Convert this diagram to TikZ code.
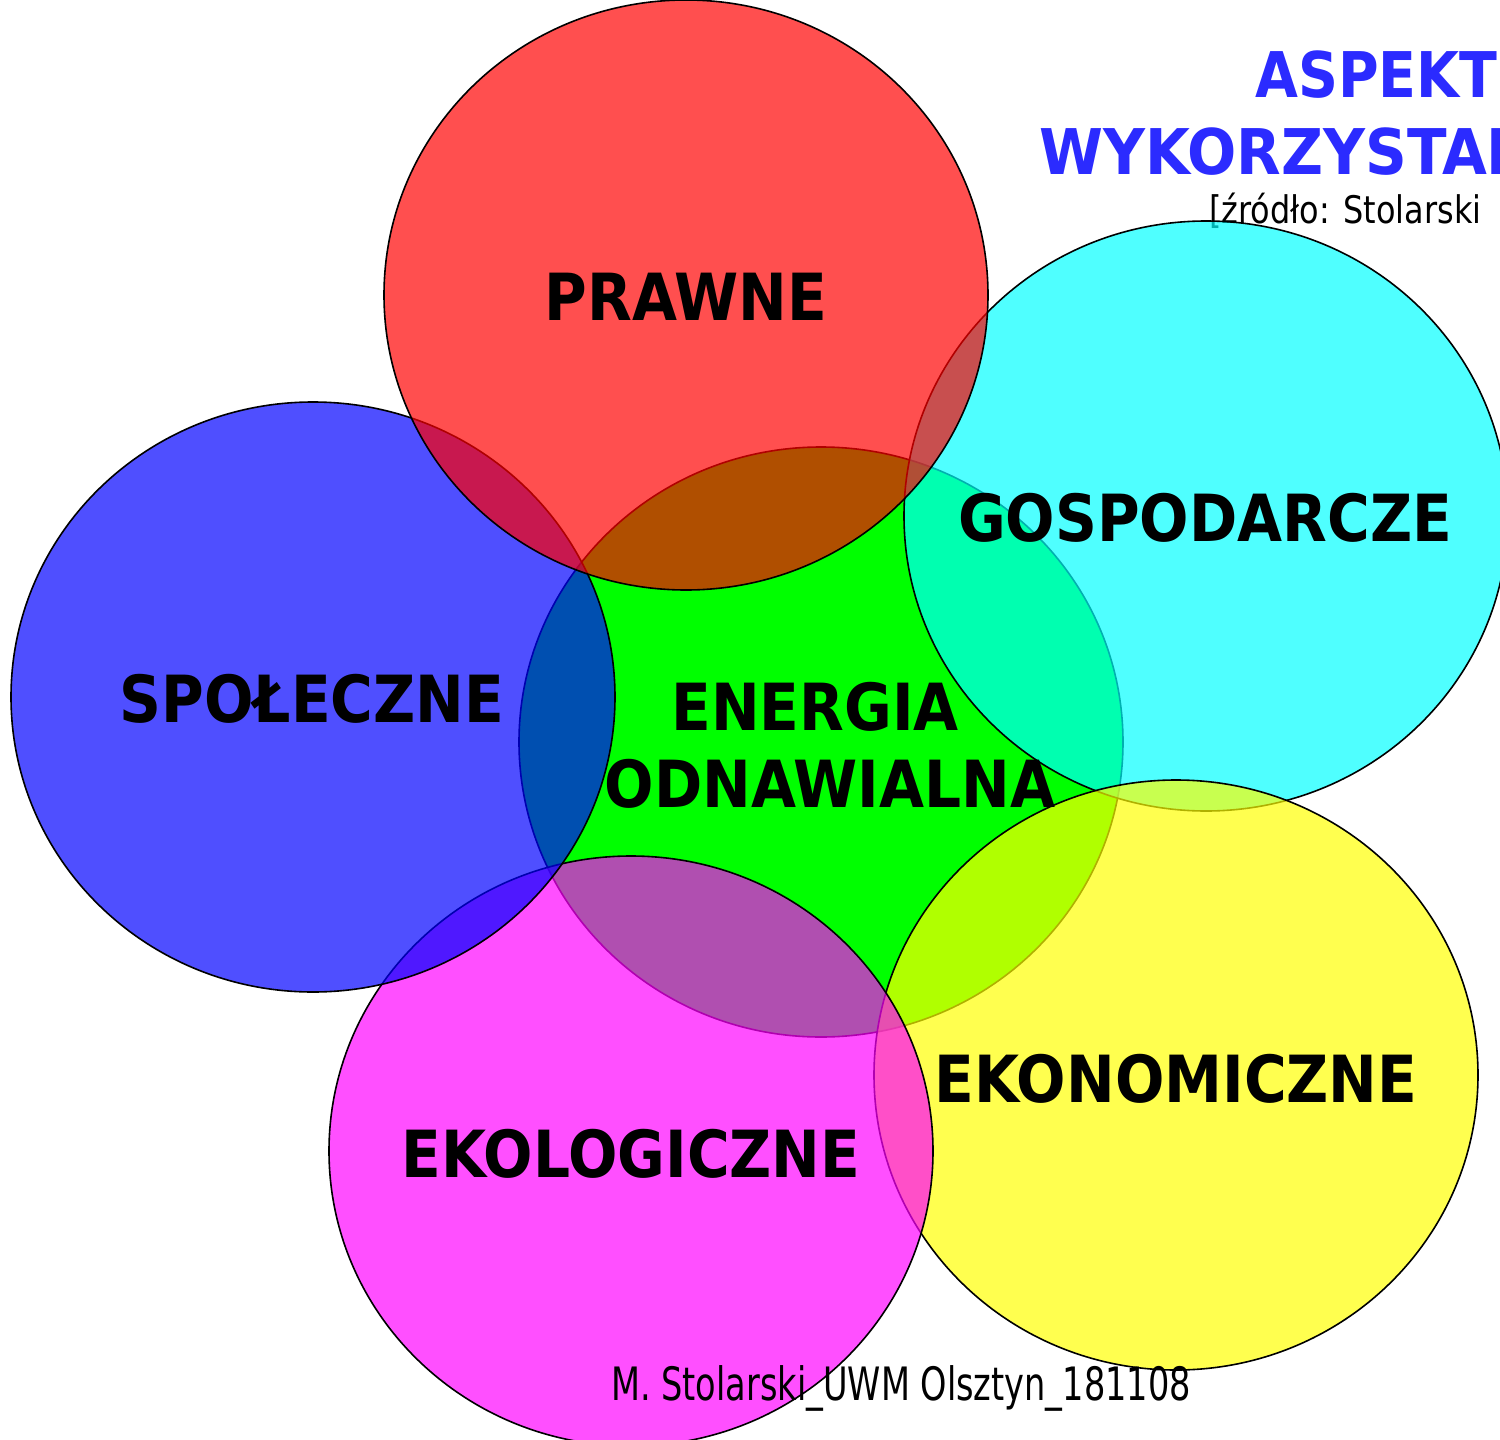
\documentclass[tikz,border=0pt]{standalone}
\usepackage{fontspec}
\setmainfont{DejaVu Sans}
\usepackage{graphicx}
\definecolor{cGreen}{RGB}{0,255,0}
\definecolor{cRed}{RGB}{255,0,0}
\definecolor{cCyan}{RGB}{0,255,255}
\definecolor{cYellow}{RGB}{255,255,0}
\definecolor{cMagenta}{RGB}{255,0,255}
\definecolor{cBlue}{RGB}{0,0,255}
\definecolor{cTitle}{RGB}{43,43,255}
\newcommand\lbl[1]{\scalebox{0.895}[1]{#1}}
\tikzset{
  disc/.style={draw=black, line width=1.6pt, fill=#1, fill opacity=0.69},
  lab/.style={anchor=base, inner sep=0pt, text=black, font=\fontsize{65}{77}\selectfont\bfseries},
  ttl/.style={anchor=base west, inner sep=0pt, text=cTitle, font=\fontsize{63}{75}\selectfont\bfseries},
  note/.style={anchor=base west, inner sep=0pt, text=black, font=\fontsize{38}{45}\selectfont},
}
\begin{document}
\begin{tikzpicture}[x=1pt,y=-1pt]
\useasboundingbox (0,0) rectangle (1500,1440);
\clip (0,0) rectangle (1500,1440);
\fill[white] (0,0) rectangle (1500,1440);
% title (under the circles)
\node[ttl] (t1) at (1255,97) {\scalebox{0.88}[1]{ASPEKT}};
\node[ttl] (t2) at (1039,174) {\scalebox{0.92}[1]{WYKORZYSTAN}};
\node[note] (src) at (1209,223) {\scalebox{0.84}[1]{[źródło: Stolarski}};
% circles
\draw[line width=1.6pt, fill=cGreen] (821,742) ellipse [x radius=302, y radius=295];
\draw[disc=cCyan] (1206,516) ellipse [x radius=302, y radius=295];
\draw[disc=cYellow] (1176,1075) ellipse [x radius=302, y radius=295];
\draw[disc=cMagenta] (631,1151) ellipse [x radius=302, y radius=295];
\draw[disc=cBlue] (313,697) ellipse [x radius=302, y radius=295];
\draw[disc=cRed] (686,295) ellipse [x radius=302, y radius=295];
% labels
\node[lab] (prawne) at (686,320) {\lbl{PRAWNE}};
\node[lab] (gosp) at (1205,541) {\lbl{GOSPODARCZE}};
\node[lab] (spol) at (312,722) {\lbl{SPOŁECZNE}};
\node[lab] (en1) at (815,730) {\lbl{ENERGIA}};
\node[lab] (en2) at (830,807) {\lbl{ODNAWIALNA}};
\node[lab] (ekon) at (1176,1102) {\lbl{EKONOMICZNE}};
\node[lab] (ekol) at (631,1177) {\lbl{EKOLOGICZNE}};
% footer
\node[anchor=base, inner sep=0pt, font=\fontsize{46}{50}\selectfont] (foot) at (901,1400) {\scalebox{0.73}[1]{M. Stolarski\_UWM Olsztyn\_181108}};
\end{tikzpicture}
\end{document}
